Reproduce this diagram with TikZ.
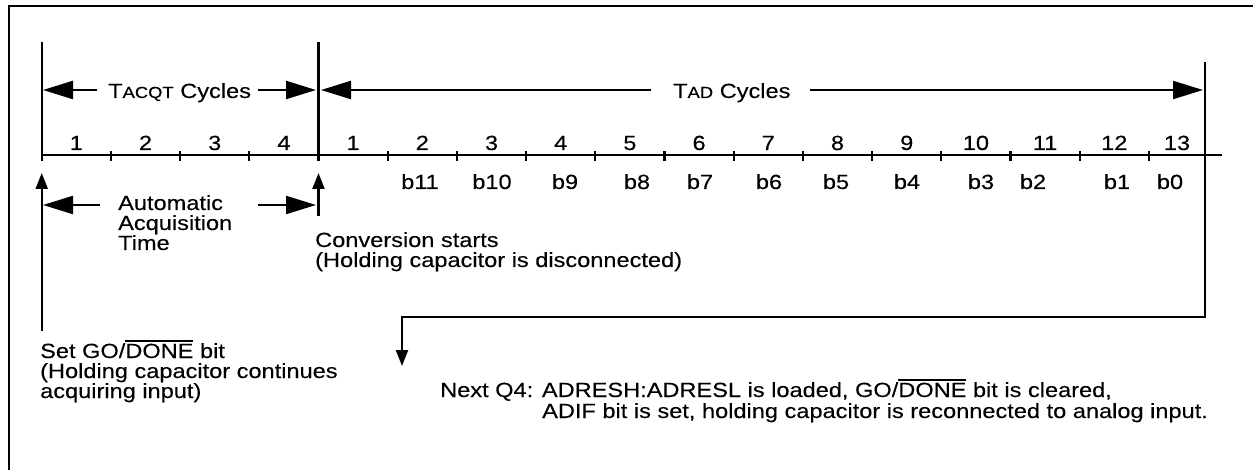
\documentclass[tikz,border=0pt]{standalone}
\usepackage{fontspec}
\setmainfont{Liberation Sans}[FakeStretch=1.15,FakeBold=0.15]
\usetikzlibrary{arrows.meta}
\newcommand\fs{\fontsize{20.5}{20.5}\selectfont}
\newcommand\smc[1]{{\fontsize{16}{16}\selectfont #1}}
\newcommand\ovl[1]{\vbox{\hrule height 1.8pt\kern 1.8pt\hbox{#1}}}
\begin{document}
\begin{tikzpicture}[x=1pt,y=-1pt,
  txt/.style={inner sep=0pt,font=\fs},
  ln/.style={line width=2.2pt},
  big/.style={ln,-{Triangle[length=30pt,width=18pt]}},
  small/.style={ln,-{Triangle[length=16pt,width=12pt]}}]
\useasboundingbox (0,0) rectangle (1253,470);
% frame
\draw[line width=2.6pt] (9,475) -- (9,6) -- (1260,6);
% timeline
\coordinate (v1t) at (41.7,42); \coordinate (v1b) at (41.7,161);
\coordinate (v2t) at (318.5,42); \coordinate (v2b) at (318.5,161);
\coordinate (axl) at (41.7,155); \coordinate (axr) at (1222,155);
\draw[ln] (v1t) -- (v1b);
\draw[ln] (v2t) -- (v2b);
\draw[ln] (axl) -- (axr);
\foreach \k in {1,2,3,5,6,7,8,9,10,11,12,13,14,15,16}
  \draw[ln] ({41.7+69.2*\k},151) -- ({41.7+69.2*\k},161);
% cycle numbers
\foreach \k/\t in {0/1,1/2,2/3,3/4,4/1,5/2,6/3,7/4,8/5,9/6,10/7,11/8,12/9,13/10,14/11,15/12}
  \node[txt,anchor=base] (n\k) at ({41.7+69.2*(\k+0.5)},150) {\t};
\node[txt,anchor=base] (n16) at (1177,150) {13};
% bits
\foreach \x/\t in {420/b11,492/b10,565/b9,637/b8,700/b7,769/b6,836/b5,907/b4,981/b3,1033/b2,1117/b1,1170/b0}
  \node[txt,anchor=base] (\t) at (\x,189) {\t};
% TACQT arrows
\node[txt,anchor=base west] (tacqt) at (108,98) {T\smc{ACQT} Cycles};
\coordinate (aql) at (97,90); \coordinate (aqlt) at (43,90);
\coordinate (aqr) at (258,90); \coordinate (aqrt) at (316,90);
\draw[big] (aql) -- (aqlt);
\draw[big] (aqr) -- (aqrt);
% TAD arrows
\node[txt,anchor=base west] (tad) at (673,98) {T\smc{AD} Cycles};
\coordinate (adl) at (651,90); \coordinate (adlt) at (321,90);
\coordinate (adr) at (810,90); \coordinate (adrt) at (1203,90);
\draw[big] (adl) -- (adlt);
\draw[big] (adr) -- (adrt);
% right vertical and connector
\coordinate (rtop) at (1205,62); \coordinate (rc) at (1205,317);
\coordinate (lc) at (402,317); \coordinate (ntip) at (402,366);
\draw[small] (rtop) -- (rc) -- (lc) -- (ntip);
% up arrows
\coordinate (u1b) at (41.7,331); \coordinate (u1t) at (41.7,173);
\coordinate (u2b) at (318.5,216); \coordinate (u2t) at (318.5,173);
\draw[small] (u1b) -- (u1t);
\draw[small] (u2b) -- (u2t);
% automatic acquisition time
\node[txt,anchor=base west] (auto1) at (118,210) {Automatic};
\node[txt,anchor=base west] (auto2) at (118,230) {Acquisition};
\node[txt,anchor=base west] (auto3) at (118,250) {Time};
\coordinate (atl) at (100,205); \coordinate (atlt) at (43,205);
\coordinate (atr) at (258,205); \coordinate (atrt) at (316,205);
\draw[big] (atl) -- (atlt);
\draw[big] (atr) -- (atrt);
% conversion starts
\node[txt,anchor=base west] (conv1) at (315,247) {Conversion starts};
\node[txt,anchor=base west] (conv2) at (315,267) {(Holding capacitor is disconnected)};
% set go/done
\node[txt,anchor=base west] (set1) at (40,358) {Set GO/\ovl{DONE} bit};
\node[txt,anchor=base west] (set2) at (40,378) {(Holding capacitor continues};
\node[txt,anchor=base west] (set3) at (40,398) {acquiring input)};
% next Q4
\node[txt,anchor=base west] (nq1) at (440,397) {Next Q4: ADRESH:ADRESL is loaded, GO/\ovl{DONE} bit is cleared,};
\node[txt,anchor=base west] (nq2) at (542,418) {ADIF bit is set, holding capacitor is reconnected to analog input.};
\end{tikzpicture}
\end{document}
